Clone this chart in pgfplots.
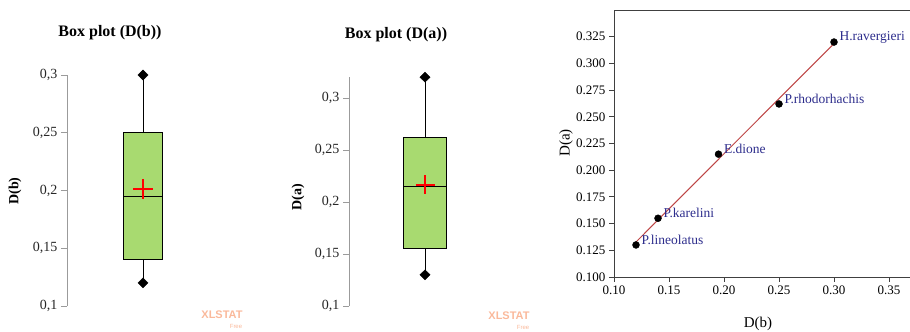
\documentclass[border=0pt]{standalone}
\usepackage{pgfplots}
\pgfplotsset{compat=1.18}
\usepackage{fontspec}
\setmainfont{Liberation Serif}
\newfontfamily\wmfont{Liberation Sans}
\definecolor{boxgreen}{RGB}{168,218,112}
\definecolor{lblblue}{RGB}{45,45,140}
\definecolor{regred}{RGB}{190,70,70}
\definecolor{wm}{RGB}{250,185,155}
\definecolor{axgray}{RGB}{155,155,155}
\pgfplotsset{
  boxpanel/.style={
    anchor=south west, scale only axis,
    width=153bp, xmin=0, xmax=153, ymin=0.1,
    separate axis lines,
    axis x line*=bottom, axis y line*=left,
    x axis line style={draw=none},
    y axis line style={axgray, -, line width=0.9bp},
    xtick=\empty,
    ytick={0.1,0.15,0.2,0.25,0.3},
    tick align=outside, major tick length=6bp,
    ytick style={axgray, line width=0.9bp},
    yticklabel style={/pgf/number format/use comma, /pgf/number format/assume math mode=true,
      font=\fontsize{14bp}{16bp}\selectfont, text=black!85},
    clip=false,
  }
}
\begin{document}
\begin{tikzpicture}
\useasboundingbox (0,0) rectangle (910bp,332bp);

% ---------- Panel 1: Box plot D(b)
\begin{axis}[boxpanel, at={(67bp,26bp)}, height=231bp, ymax=0.3]
\addplot[black, line width=0.9bp] coordinates {(76,0.25) (76,0.30)};
\addplot[black, line width=0.9bp] coordinates {(76,0.12) (76,0.14)};
\addplot[draw=black, fill=boxgreen, line width=0.9bp] coordinates {(56.5,0.14) (95.5,0.14) (95.5,0.25) (56.5,0.25)} -- cycle;
\addplot[black, line width=1.2bp] coordinates {(56.5,0.195) (95.5,0.195)};
\addplot[only marks, mark=diamond*, mark size=5bp, mark options={xscale=1.35}, black] coordinates {(76,0.12) (76,0.30)};
\addplot[only marks, mark=+, mark size=10bp, red, line width=1.5bp] coordinates {(76,0.2013)};
\end{axis}

% ---------- Panel 2: Box plot D(a)
\begin{axis}[boxpanel, at={(349bp,26bp)}, height=228.8bp, ymax=0.32]
\addplot[black, line width=0.9bp] coordinates {(76,0.262) (76,0.32)};
\addplot[black, line width=0.9bp] coordinates {(76,0.13) (76,0.155)};
\addplot[draw=black, fill=boxgreen, line width=0.9bp] coordinates {(54.5,0.155) (97.5,0.155) (97.5,0.262) (54.5,0.262)} -- cycle;
\addplot[black, line width=1.2bp] coordinates {(54.5,0.215) (97.5,0.215)};
\addplot[only marks, mark=diamond*, mark size=5bp, mark options={xscale=1.35}, black] coordinates {(76,0.13) (76,0.32)};
\addplot[only marks, mark=+, mark size=9.5bp, red, line width=1.5bp] coordinates {(76,0.2164)};
\end{axis}

% ---------- Panel 3: scatter D(b) vs D(a)
\begin{axis}[
  at={(614bp,55bp)}, anchor=south west, scale only axis,
  width=330bp, height=267bp,
  xmin=0.1, xmax=0.4, ymin=0.1, ymax=0.35,
  xtick={0.1,0.15,0.2,0.25,0.3,0.35},
  ytick={0.1,0.125,0.15,0.175,0.2,0.225,0.25,0.275,0.3,0.325},
  tick pos=left, tick align=outside, major tick length=5bp,
  axis line style={black!75, line width=0.9bp},
  tick style={black!75, line width=0.9bp},
  xticklabel style={/pgf/number format/.cd, fixed, fixed zerofill, precision=2, assume math mode=true,
    /tikz/.cd, font=\fontsize{13bp}{15bp}\selectfont},
  yticklabel style={/pgf/number format/.cd, fixed, fixed zerofill, precision=3, assume math mode=true,
    /tikz/.cd, font=\fontsize{13bp}{15bp}\selectfont},
  clip=false,
]
\addplot[regred, line width=1bp] coordinates {(0.12,0.1328) (0.30,0.3186)};
\addplot[only marks, mark=*, mark size=3.5bp, black,
  nodes near coords, point meta=explicit symbolic,
  nodes near coords style={anchor=west, xshift=2bp, yshift=5bp, text=lblblue,
    font=\fontsize{13.5bp}{15bp}\selectfont}]
  table[meta=label] {
x y label
0.12 0.13 P.lineolatus
0.14 0.155 P.karelini
0.195 0.215 E.dione
0.25 0.262 P.rhodorhachis
0.30 0.32 H.ravergieri
};
\end{axis}

% ---------- Titles and labels
\node[font=\bfseries\fontsize{16bp}{18bp}\selectfont] at (110bp,299bp) {Box plot (D(b))};
\node[font=\bfseries\fontsize{16bp}{18bp}\selectfont] at (396bp,297bp) {Box plot (D(a))};
\node[font=\bfseries\fontsize{14bp}{16bp}\selectfont, rotate=90] at (15bp,141bp) {D(b)};
\node[font=\bfseries\fontsize{14bp}{16bp}\selectfont, rotate=90] at (298bp,135bp) {D(a)};
\node[font=\fontsize{15bp}{17bp}\selectfont, rotate=90] at (566bp,189bp) {D(a)};
\node[font=\fontsize{15bp}{17bp}\selectfont] at (758bp,8bp) {D(b)};

% ---------- Watermarks
\node[font=\wmfont\bfseries\fontsize{11bp}{12bp}\selectfont, text=wm] at (222bp,17bp) {XLSTAT};
\node[font=\wmfont\fontsize{6bp}{7bp}\selectfont, text=wm] at (236bp,6bp) {Free};
\node[font=\wmfont\bfseries\fontsize{11bp}{12bp}\selectfont, text=wm] at (509bp,16bp) {XLSTAT};
\node[font=\wmfont\fontsize{6bp}{7bp}\selectfont, text=wm] at (523bp,5bp) {Free};
\end{tikzpicture}
\end{document}
